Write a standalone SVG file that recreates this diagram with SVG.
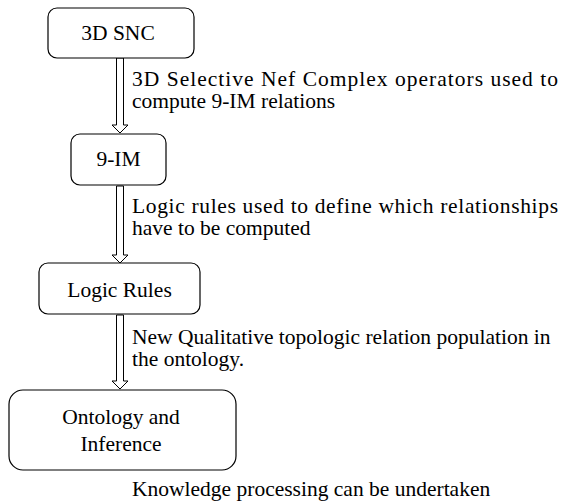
<svg xmlns="http://www.w3.org/2000/svg" width="561" height="504" viewBox="0 0 561 504" font-family="'Liberation Serif', 'Times New Roman', 'DejaVu Serif', serif">
<style>
.box{fill:#fff;stroke:#000;stroke-width:1.2}
.arr{fill:#fff;stroke:#000;stroke-width:1}
.t{font-family:'Liberation Serif','Times New Roman','DejaVu Serif',serif;font-size:21.5px;fill:#000}
.c{text-anchor:middle}
</style>
<rect width="561" height="504" fill="#fff"/>
<g id="connectors">
<path class="arr" d="M116.5,58 H123.5 V125 H128 L120,133 L112,125 H116.5 Z"/>
<path class="arr" d="M116.5,186 H123.5 V255 H128 L120,263 L112,255 H116.5 Z"/>
<path class="arr" d="M116.5,315 H123.5 V381 H128 L120,389 L112,381 H116.5 Z"/>
<text class="t" x="132" y="86" textLength="426" lengthAdjust="spacing">3D Selective Nef Complex operators used to</text>
<text class="t" x="132" y="108">compute 9-IM relations</text>
<text class="t" x="132" y="213" textLength="426" lengthAdjust="spacing">Logic rules used to define which relationships</text>
<text class="t" x="132" y="235">have to be computed</text>
<text class="t" x="132" y="344">New Qualitative topologic relation population in</text>
<text class="t" x="132" y="366">the ontology.</text>
</g>
<g id="n1">
<rect class="box" x="48" y="8" width="146" height="50" rx="9"/>
<text class="t c" x="118" y="40">3D SNC</text>
</g>
<g id="n2">
<rect class="box" x="71" y="134" width="95" height="51" rx="9"/>
<text class="t c" x="118.5" y="166">9-IM</text>
</g>
<g id="n3">
<rect class="box" x="39" y="263" width="161" height="51" rx="9"/>
<text class="t c" x="119.5" y="297">Logic Rules</text>
</g>
<g id="n4">
<rect class="box" x="9" y="390" width="227" height="80" rx="14"/>
<text class="t c" x="121" y="424">Ontology and</text>
<text class="t c" x="121" y="451">Inference</text>
</g>
<g id="n5">
<text class="t" x="132" y="496">Knowledge processing can be undertaken</text>
</g>
</svg>
